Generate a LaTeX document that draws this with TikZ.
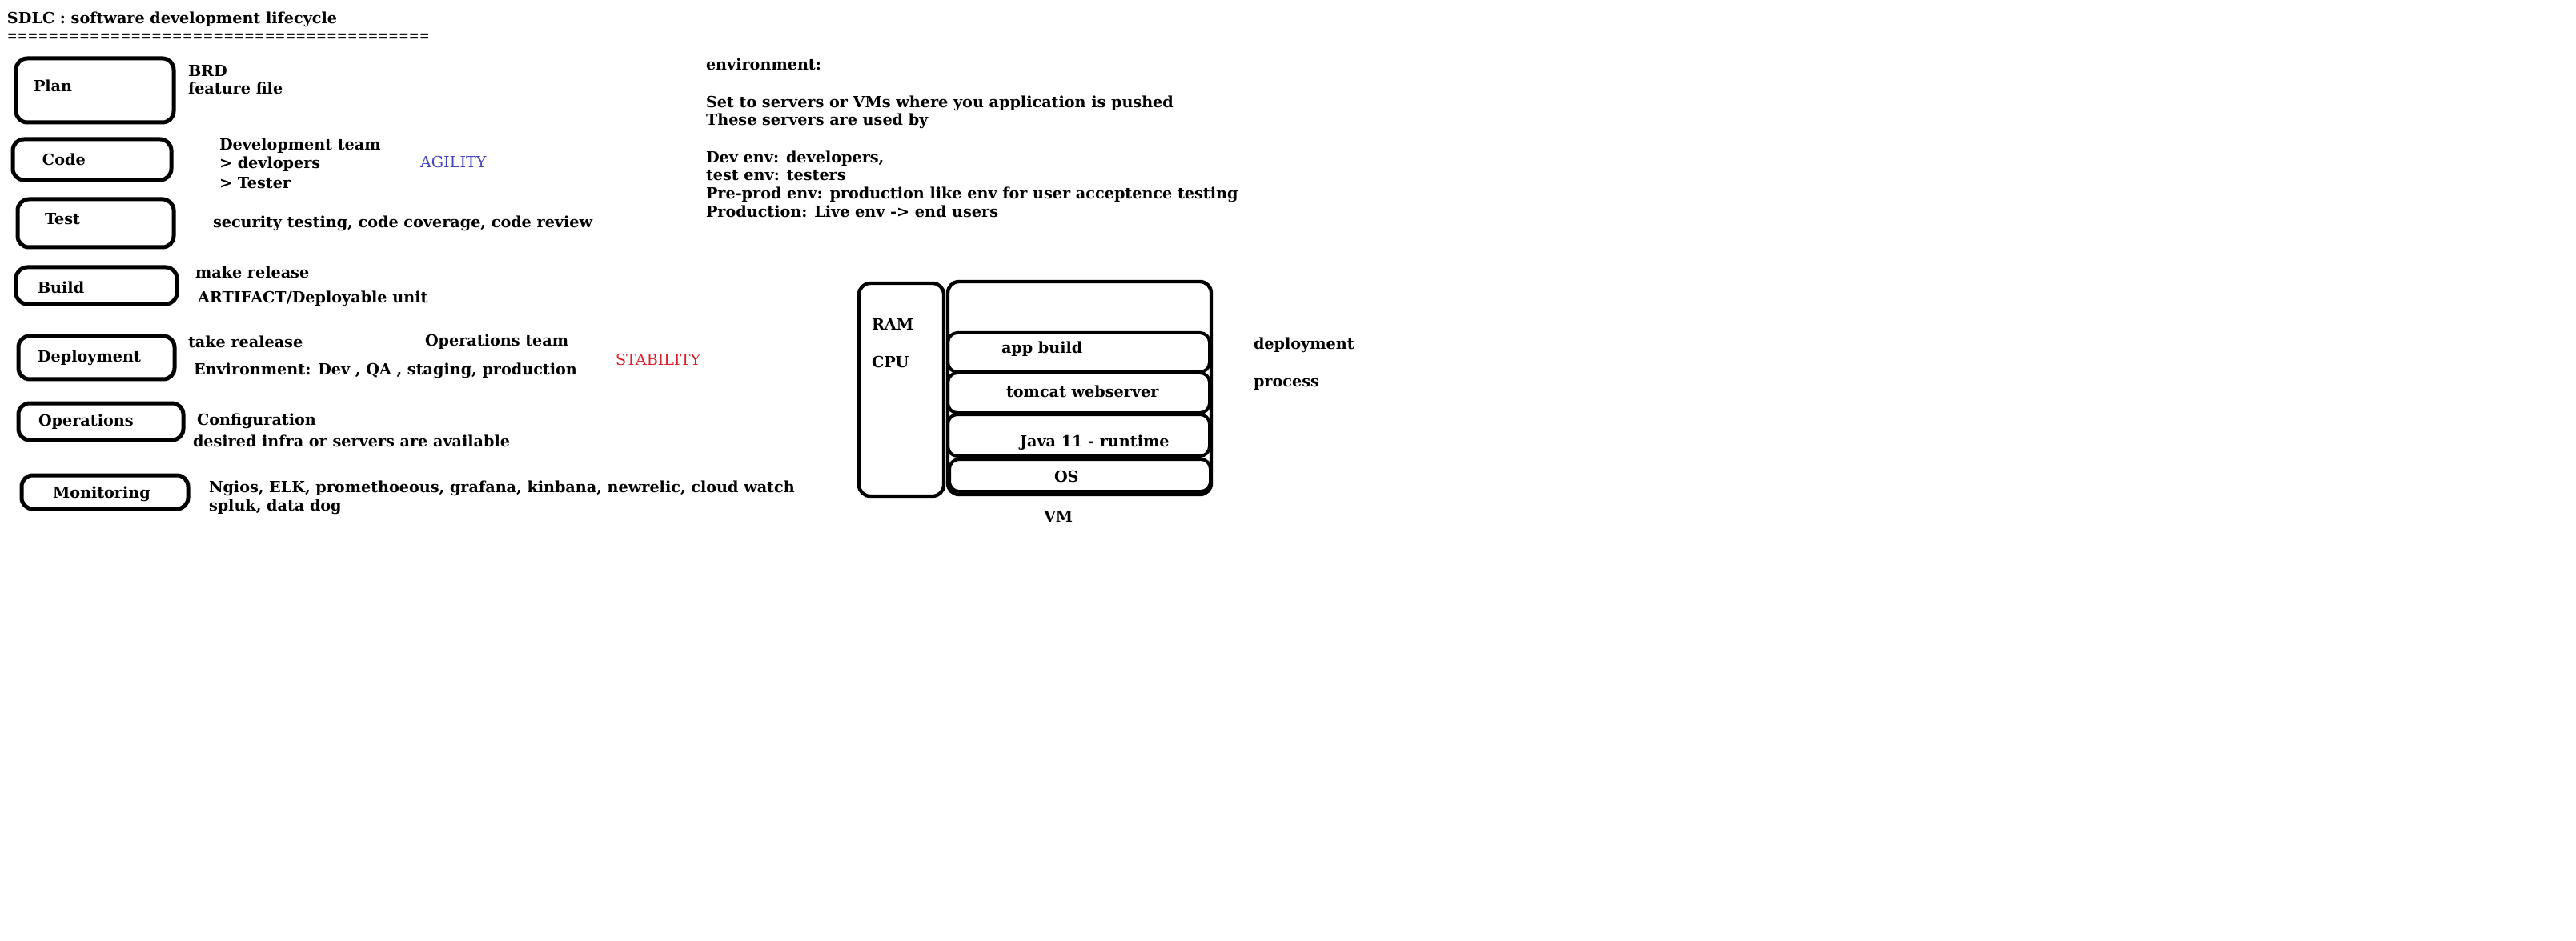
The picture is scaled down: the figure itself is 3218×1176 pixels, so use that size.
\documentclass[tikz,border=0pt]{standalone}
\usepackage{fontspec}
\setmainfont{DejaVu Serif}
\usetikzlibrary{fit}
\definecolor{agilityblue}{RGB}{70,70,190}
\definecolor{stabilityred}{RGB}{220,30,40}
\begin{document}
\begin{tikzpicture}[x=0.5pt,y=-0.5pt,
  txt/.style={anchor=base west,inner sep=0pt,outer sep=0pt,font=\fontsize{9.6}{11.5}\selectfont\bfseries},
  stagebox/.style={draw,line width=2.5pt,rounded corners=7pt,inner sep=0pt},
  hwbox/.style={draw,line width=2.2pt,rounded corners=7pt,inner sep=0pt},
  layer/.style={draw,line width=2pt,rounded corners=6pt,inner sep=0pt}]
\useasboundingbox[fill=white] (0,0) rectangle (3218,1176);

% heading
\node[txt] (title) at (9,30) {SDLC : software development lifecycle};
\node[txt] (rule) at (9,52) {\scalebox{0.8}[1]{=========================================}};

% lifecycle stages
\node[stagebox,fit={(20,73) (217,153)}] (plan) {};
\node[stagebox,fit={(16,174) (214,225)}] (code) {};
\node[stagebox,fit={(22,249) (217,309)}] (test) {};
\node[stagebox,fit={(20,334) (221,380)}] (build) {};
\node[stagebox,fit={(23,420) (218,474)}] (deploy) {};
\node[stagebox,fit={(23,504) (229,550)}] (ops) {};
\node[stagebox,fit={(27,594) (235,636)}] (mon) {};

\node[txt] (planlbl) at (42,115) {Plan};
\node[txt] (codelbl) at (53,207) {Code};
\node[txt] (testlbl) at (56,281) {Test};
\node[txt] (buildlbl) at (47,367) {Build};
\node[txt] (deploylbl) at (47,452) {Deployment};
\node[txt] (opslbl) at (48,532) {Operations};
\node[txt] (monlbl) at (66,622) {Monitoring};

% stage notes
\node[txt] (brd) at (235,96) {BRD};
\node[txt] (feature) at (235,118) {feature file};
\node[txt] (devteam) at (274,188) {Development team};
\node[txt] (devs) at (274,211) {> devlopers};
\node[txt] (testers) at (274,236) {> Tester};
\node[txt,font=\fontsize{9.6}{11.5}\selectfont,text=agilityblue] (agility) at (525,210) {AGILITY};
\node[txt] (sec) at (266,285) {security testing, code coverage, code review};
\node[txt] (release) at (244,348) {make release};
\node[txt] (artifact) at (247,379) {ARTIFACT/Deployable unit};
\node[txt] (take) at (235,435) {take realease};
\node[txt] (opsteam) at (531,433) {Operations team};
\node[txt] (envs) at (242,468) {Environment: Dev , QA , staging, production};
\node[txt,font=\fontsize{9.6}{11.5}\selectfont,text=stabilityred] (stability) at (769,457) {STABILITY};
\node[txt] (config) at (246,531) {Configuration};
\node[txt] (infra) at (241,558) {desired infra or servers are available};
\node[txt] (tools) at (261,615) {Ngios, ELK, promethoeous, grafana, kinbana, newrelic, cloud watch};
\node[txt] (tools2) at (261,638) {spluk, data dog};

% environments
\node[txt] (envhead) at (882,88) {environment:};
\node[txt] (env1) at (882,135) {Set to servers or VMs where you application is pushed};
\node[txt] (env2) at (882,157) {These servers are used by};
\node[txt] (env3) at (882,204) {Dev env: developers,};
\node[txt] (env4) at (882,226) {test env: testers};
\node[txt] (env5) at (882,249) {Pre-prod env: production like env for user acceptence testing};
\node[txt] (env6) at (882,272) {Production: Live env -> end users};

% virtual machine
\node[hwbox,fit={(1073,354) (1179,620)}] (hw) {};
\node[txt] (ram) at (1089,413) {RAM};
\node[txt] (cpu) at (1089,459) {CPU};
\node[hwbox,fit={(1184,352) (1513,618)}] (vm) {};
\node[layer,fit={(1184,416) (1511,465)}] (appbuild) {};
\node[layer,fit={(1184,466) (1511,516)}] (tomcat) {};
\node[layer,fit={(1184,518) (1511,570)}] (java) {};
\node[layer,fit={(1186,574) (1512,614)}] (os) {};
\node[txt] (appbuildlbl) at (1251,442) {app build};
\node[txt] (tomcatlbl) at (1257,496) {tomcat webserver};
\node[txt] (javalbl) at (1274,559) {Java 11 - runtime};
\node[txt] (oslbl) at (1317,602) {OS};
\node[txt] (vmlbl) at (1304,652) {VM};
\node[txt] (deplbl) at (1566,437) {deployment};
\node[txt] (proclbl) at (1566,483) {process};
\end{tikzpicture}
\end{document}
